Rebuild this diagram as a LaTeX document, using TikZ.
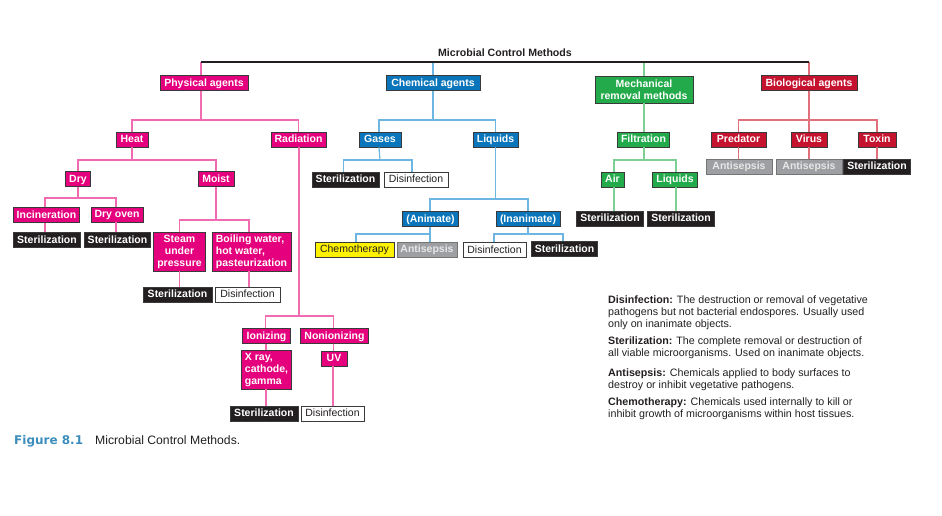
\documentclass[tikz,border=0pt]{standalone}
\usepackage{fontspec}
\setmainfont{Liberation Sans}
\newfontfamily\capfont{DejaVu Sans}
\definecolor{pinkF}{HTML}{E5007D}
\definecolor{pinkL}{HTML}{F06BB0}
\definecolor{blueF}{HTML}{0A75BA}
\definecolor{blueL}{HTML}{6DB6E2}
\definecolor{greenF}{HTML}{22AA4B}
\definecolor{greenL}{HTML}{7FCE94}
\definecolor{redF}{HTML}{C4122F}
\definecolor{redL}{HTML}{E0707C}
\definecolor{blackF}{HTML}{231F20}
\definecolor{yellowF}{HTML}{FFF200}
\definecolor{grayF}{HTML}{9D9FA2}
\definecolor{grayT}{HTML}{E8E8E8}
\definecolor{bord}{HTML}{3A3A3A}
\definecolor{capblue}{HTML}{3C8DBC}
\definecolor{txt}{HTML}{231F20}
\tikzset{
  boxbase/.style={draw=bord, line width=0.8pt, inner xsep=3.5pt, inner ysep=0pt,
    font=\fontsize{10.5}{12}\selectfont\bfseries, text=white},
  one/.style={boxbase, minimum height=15pt, text height=8pt, text depth=1.7pt},
  multi/.style={boxbase, inner ysep=2pt},
  pk/.style={fill=pinkF},
  bl/.style={fill=blueF},
  gr/.style={fill=greenF},
  rd/.style={fill=redF},
  ster/.style={one, fill=blackF},
  disf/.style={one, fill=white, text=txt, font=\fontsize{10.5}{12}\selectfont},
  chemob/.style={one, fill=yellowF, text=txt, font=\fontsize{10.5}{12}\selectfont},
  antib/.style={one, fill=grayF, text=grayT, draw=bord!70},
  conn/.style={line width=1.2pt},
  pline/.style={conn, draw=pinkL},
  bline/.style={conn, draw=blueL},
  gline/.style={conn, draw=greenL},
  rline/.style={conn, draw=redL},
  kline/.style={conn, draw=blackF},
  legend/.style={anchor=north west, inner sep=0pt, align=left, text=txt,
    font=\fontsize{10.7}{12}\selectfont},
}
\begin{document}
\begin{tikzpicture}[x=1pt,y=-1pt]
\useasboundingbox (0,0) rectangle (942,516);
% title
\node[anchor=base, font=\fontsize{10.6}{12}\selectfont\bfseries, text=txt, inner sep=0pt] (title) at (505,57) {Microbial Control Methods};
% top level
\node[one,pk,minimum width=88pt] (phys) at (204,83) {Physical agents};
\node[one,bl,minimum width=94pt] (chem) at (433,83) {Chemical agents};
\node[multi,gr,align=center,minimum width=98pt,minimum height=27pt] (mech) at (644,89.5) {Mechanical\\removal methods};
\node[one,rd,minimum width=96pt] (bio) at (809,83) {Biological agents};
% physical
\node[one,pk,minimum width=32pt] (heat) at (132,139.5) {Heat};
\node[one,pk,minimum width=55pt] (rad) at (298.5,139.5) {Radiation};
\node[one,pk,minimum width=24pt] (dry) at (78,179) {Dry};
\node[one,pk,minimum width=36pt] (moist) at (216,179) {Moist};
\node[one,pk,minimum width=65pt] (incin) at (46.5,215) {Incineration};
\node[one,pk,minimum width=51pt] (dryoven) at (117,214.5) {Dry oven};
\node[ster,minimum width=66pt] (st1) at (47,240) {Sterilization};
\node[ster,minimum width=65pt] (st2) at (117.5,240) {Sterilization};
\node[multi,pk,align=center,minimum width=49pt,minimum height=39pt] (steam) at (179.5,251.5) {Steam\\under\\pressure};
\node[multi,pk,align=left,minimum width=79pt,minimum height=39pt] (boil) at (251.5,251.5) {Boiling water,\\hot water,\\pasteurization};
\node[ster,minimum width=69pt] (st3) at (177.5,294.5) {Sterilization};
\node[disf,minimum width=65pt] (dis1) at (247.5,294.5) {Disinfection};
\node[one,pk,minimum width=48pt] (ion) at (266.5,336) {Ionizing};
\node[one,pk,minimum width=68pt] (nonion) at (334.5,336) {Nonionizing};
\node[multi,pk,align=left,minimum width=49pt,minimum height=39pt] (xray) at (266.5,369.5) {X ray,\\cathode,\\gamma};
\node[one,pk,minimum width=26pt] (uv) at (334,358.5) {UV};
\node[ster,minimum width=68pt] (st4) at (264,413.5) {Sterilization};
\node[disf,minimum width=63pt] (dis2) at (332.5,413.5) {Disinfection};
% chemical
\node[one,bl,minimum width=42pt] (gases) at (380,139.5) {Gases};
\node[one,bl,minimum width=45pt] (liq) at (495.5,139.5) {Liquids};
\node[ster,minimum width=67pt] (st5) at (345.5,179.5) {Sterilization};
\node[disf,minimum width=64pt] (dis3) at (416,179.5) {Disinfection};
\node[one,bl,minimum width=55pt] (anim) at (430.5,219) {(Animate)};
\node[one,bl,minimum width=64pt] (inanim) at (528,219) {(Inanimate)};
\node[chemob,minimum width=79pt] (chemo) at (354.5,249.5) {Chemotherapy};
\node[antib,minimum width=58pt] (antis1) at (427,249.5) {Antisepsis};
\node[disf,minimum width=63pt] (dis4) at (494.5,250) {Disinfection};
\node[ster,minimum width=65pt] (st6) at (564.5,249) {Sterilization};
% mechanical
\node[one,gr,minimum width=51pt] (filt) at (643.5,139.5) {Filtration};
\node[one,gr,minimum width=23pt] (air) at (612.5,179.5) {Air};
\node[one,gr,minimum width=44pt] (liq2) at (675,179.5) {Liquids};
\node[ster,minimum width=66pt] (st7) at (610,218.5) {Sterilization};
\node[ster,minimum width=66pt] (st8) at (681,218.5) {Sterilization};
% biological
\node[one,rd,minimum width=55pt] (pred) at (738.5,139.5) {Predator};
\node[one,rd,minimum width=36pt] (virus) at (809,139.5) {Virus};
\node[one,rd,minimum width=38pt] (toxin) at (877,139.5) {Toxin};
\node[antib,minimum width=66pt] (antis2) at (739,166.5) {Antisepsis};
\node[antib,minimum width=66pt] (antis3) at (809,166.5) {Antisepsis};
\node[ster,minimum width=64pt] (st9) at (877,166.5) {Sterilization};
% bar coordinates
\coordinate (tL) at (201,62);
\coordinate (tC) at (433,62);
\coordinate (tM) at (644,62);
\coordinate (tR) at (809,62);
\coordinate (bP) at (201,120);
\coordinate (bH) at (132,160);
\coordinate (bD) at (78,198);
\coordinate (bMo) at (216,220);
\coordinate (bR) at (299,316);
\coordinate (bC) at (433,120);
\coordinate (bG) at (380,160);
\coordinate (bL) at (495.5,199);
\coordinate (bA) at (430,234);
\coordinate (bI) at (528,234);
\coordinate (bF) at (644,160);
\coordinate (bB) at (809,120);
% connectors
\draw[pline] (tL) -- (tL |- phys.north);
\draw[bline] (tC) -- (chem.north);
\draw[gline] (tM) -- (mech.north);
\draw[rline] (tR) -- (bio.north);
\draw[kline] (tL) -- (tR);
% physical
\draw[pline] (phys.south -| bP) -- (bP);
\draw[pline] (heat.north) |- (bP) -| (rad.north);
\draw[pline] (heat.south) -- (bH);
\draw[pline] (dry.north) |- (bH) -| (moist.north);
\draw[pline] (dry.south) -- (bD);
\draw[pline] ([xshift=-1.5pt]incin.north) |- (bD) -| ([xshift=-1pt]dryoven.north);
\draw[pline] ([xshift=-1.5pt]incin.south) -- ([xshift=-1.5pt]incin.south |- st1.north);
\draw[pline] ([xshift=-1pt]dryoven.south) -- ([xshift=-1pt]dryoven.south |- st2.north);
\draw[pline] (moist.south) -- (bMo);
\draw[pline] (steam.north) |- (bMo) -| ([xshift=-2.5pt]boil.north);
\draw[pline] (steam.south) -- (steam.south |- st3.north);
\draw[pline] ([xshift=-2.5pt]boil.south) -- ([xshift=-2.5pt]boil.south |- dis1.north);
\draw[pline] (rad.south -| bR) -- (bR);
\draw[pline] ([xshift=-1pt]ion.north) |- (bR) -| ([xshift=-1pt]nonion.north);
\draw[pline] ([xshift=-0.5pt]ion.south) -- ([xshift=-0.5pt]ion.south |- xray.north);
\draw[pline] ([xshift=-1pt]nonion.south) -- ([xshift=-1pt]nonion.south |- uv.north);
\draw[pline] ([xshift=-0.5pt]xray.south) -- ([xshift=-0.5pt]xray.south |- st4.north);
\draw[pline] ([xshift=-1pt]uv.south) -- ([xshift=-1pt]uv.south |- dis2.north);
% chemical
\draw[bline] (chem.south) -- (bC);
\draw[bline] ([xshift=-1pt]gases.north) |- (bC) -| (liq.north);
\draw[bline] ([xshift=-1pt]gases.south) -- (bG);
\draw[bline] ([xshift=-2pt]st5.north) |- (bG) -| ([xshift=-4pt]dis3.north);
\draw[bline] (liq.south) -- (bL);
\draw[bline] ([xshift=-0.5pt]anim.north) |- (bL) -| (inanim.north);
\draw[bline] ([xshift=-0.5pt]anim.south) -- (bA);
\draw[bline] ([xshift=1.5pt]chemo.north) |- (bA) -| ([xshift=3pt]antis1.north);
\draw[bline] (inanim.south) -- (bI);
\draw[bline] ([xshift=-0.5pt]dis4.north) |- (bI) -| ([xshift=-1.5pt]st6.north);
% mechanical
\draw[gline] (mech.south) -- (mech.south |- filt.north);
\draw[gline] ([xshift=0.5pt]filt.south) -- (bF);
\draw[gline] ([xshift=1.5pt]air.north) |- (bF) -| ([xshift=1pt]liq2.north);
\draw[gline] ([xshift=1.5pt]air.south) -- ([xshift=1.5pt]air.south |- st7.north);
\draw[gline] ([xshift=1pt]liq2.south) -- ([xshift=1pt]liq2.south |- st8.north);
% biological
\draw[rline] (bio.south) -- (bB);
\draw[rline] (pred.north) |- (bB) -| (toxin.north);
\draw[rline] (virus.north) -- (bB);
\draw[rline] (pred.south) -- (pred.south |- antis2.north);
\draw[rline] (virus.south) -- (antis3.north);
\draw[rline] (toxin.south) -- (st9.north);
% legend
\node[legend] (leg1) at (608,296) {\textbf{Disinfection:} The destruction or removal of vegetative\\pathogens but not bacterial endospores. Usually used\\only on inanimate objects.};
\node[legend] (leg2) at (608,337) {\textbf{Sterilization:} The complete removal or destruction of\\all viable microorganisms. Used on inanimate objects.};
\node[legend] (leg3) at (608,369) {\textbf{Antisepsis:} Chemicals applied to body surfaces to\\destroy or inhibit vegetative pathogens.};
\node[legend] (leg4) at (608,398) {\textbf{Chemotherapy:} Chemicals used internally to kill or\\inhibit growth of microorganisms within host tissues.};
% caption
\node[anchor=base west, inner sep=0pt, text=capblue, font=\capfont\fontsize{12}{14}\selectfont\bfseries] (capnum) at (14,444.5) {Figure 8.1};
\node[anchor=base west, inner sep=0pt, text=txt, font=\fontsize{12.2}{14}\selectfont] (captext) at (95,444.5) {Microbial Control Methods.};
\end{tikzpicture}
\end{document}
